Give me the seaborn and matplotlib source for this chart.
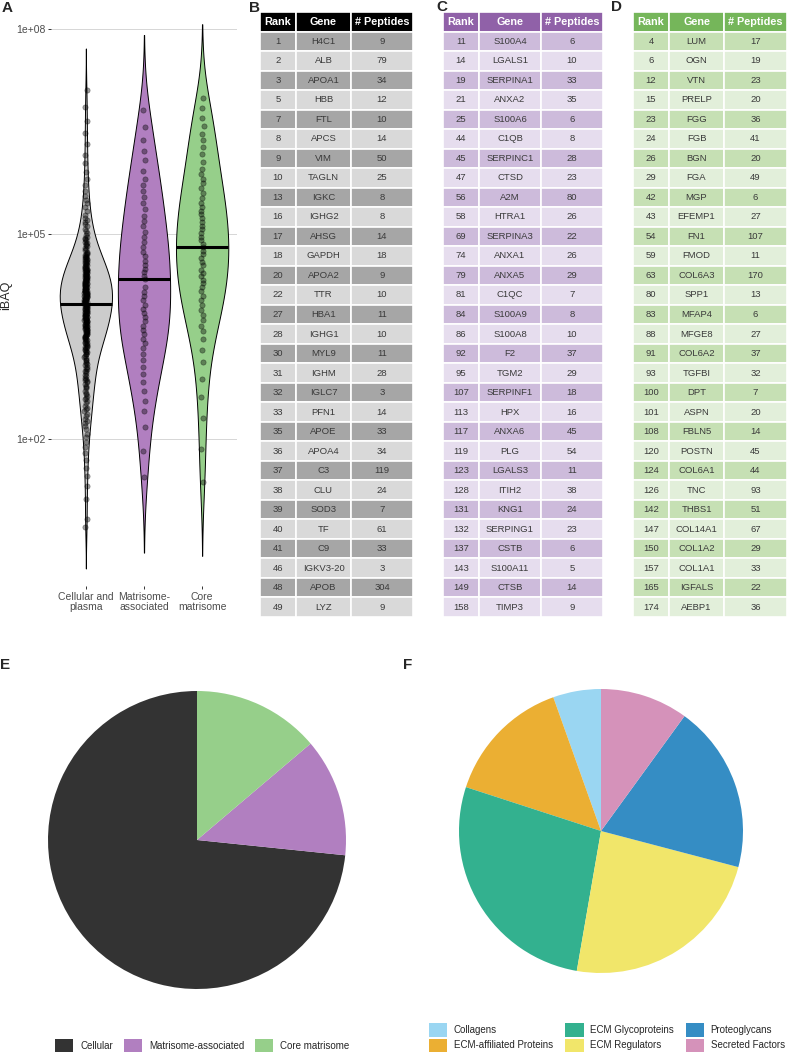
import numpy as np
import pandas as pd
import matplotlib
matplotlib.use("Agg")
import matplotlib.pyplot as plt
import seaborn as sns

cellular_log_ibaq = [
    0.72, 0.83, 1.12, 1.31, 1.46, 1.58, 1.70, 1.79, 1.88, 1.96,
    2.03, 2.08, 2.14, 2.19, 2.23, 2.27, 2.30, 2.34, 2.37, 2.41, 2.44, 2.46, 2.49,
    2.52, 2.55, 2.58, 2.60, 2.63, 2.66, 2.68, 2.71, 2.74,
    2.76, 2.78, 2.80, 2.83, 2.85, 2.87, 2.88, 2.90, 2.92, 2.94, 2.96, 2.99,
    3.00, 3.02, 3.04, 3.06, 3.08, 3.10, 3.11, 3.13, 3.15, 3.16, 3.18, 3.20, 3.22, 3.24,
    3.25, 3.27, 3.28, 3.29, 3.30, 3.32, 3.33, 3.34, 3.35, 3.36, 3.38, 3.39, 3.40, 3.41,
    3.42, 3.43, 3.45, 3.46, 3.47, 3.48, 3.49,
    3.50, 3.51, 3.51, 3.52, 3.53, 3.54, 3.55, 3.56, 3.56, 3.57, 3.58, 3.59, 3.60, 3.61, 3.61, 3.62,
    3.63, 3.64, 3.65, 3.66, 3.66, 3.67, 3.68, 3.69, 3.70, 3.71, 3.71, 3.72, 3.73, 3.74, 3.74,
    3.75, 3.76, 3.76, 3.77, 3.78, 3.78, 3.79, 3.80, 3.81, 3.81, 3.82, 3.83, 3.84, 3.84, 3.85, 3.86,
    3.87, 3.87, 3.88, 3.89, 3.90, 3.90, 3.91, 3.92, 3.93, 3.93, 3.94, 3.95, 3.96, 3.96, 3.97, 3.98, 3.99,
    4.00, 4.00, 4.01, 4.01, 4.02, 4.02, 4.03, 4.04, 4.04, 4.05, 4.05, 4.06, 4.07, 4.07, 4.08, 4.08,
    4.09, 4.10, 4.10, 4.11, 4.11, 4.12, 4.13, 4.13, 4.14, 4.14, 4.15, 4.16, 4.16, 4.17, 4.17, 4.18,
    4.19, 4.19, 4.20, 4.20, 4.21, 4.22, 4.22, 4.23, 4.24,
    4.25, 4.26, 4.26, 4.27, 4.27, 4.28, 4.29, 4.29, 4.30, 4.31, 4.31, 4.32, 4.33, 4.34, 4.34, 4.35,
    4.36, 4.36, 4.37, 4.38, 4.39, 4.39, 4.40, 4.41, 4.41, 4.42, 4.43, 4.44, 4.45, 4.46, 4.46, 4.47,
    4.48, 4.48, 4.49, 4.49,
    4.50, 4.51, 4.52, 4.53, 4.54, 4.55, 4.56, 4.57, 4.58, 4.59, 4.60, 4.61, 4.62, 4.63, 4.64, 4.65,
    4.66, 4.67, 4.68, 4.69, 4.70, 4.71, 4.72, 4.74,
    4.76, 4.78, 4.80, 4.82, 4.84, 4.85, 4.87, 4.89, 4.91, 4.92, 4.94, 4.96, 4.98,
    5.02, 5.05, 5.08, 5.11, 5.14, 5.17, 5.20, 5.23,
    5.28, 5.33, 5.39, 5.45, 5.49,
    5.55, 5.63, 5.71, 5.80, 5.91,
    6.04, 6.16, 6.31, 6.48, 6.66, 6.86, 7.10,
]
matrisome_assoc_log_ibaq = [
    1.44, 1.83, 2.18, 2.41, 2.56, 2.71, 2.84, 2.95, 3.05, 3.16,
    3.24, 3.33, 3.41, 3.47, 3.54, 3.60, 3.66, 3.72, 3.78, 3.84,
    3.90, 3.96, 4.03, 4.09, 4.15, 4.22, 4.34, 4.39, 4.44, 4.49,
    4.55, 4.61, 4.68, 4.74, 4.81, 4.88, 4.95, 5.03, 5.11, 5.19,
    5.27, 5.36, 5.45, 5.54, 5.63, 5.72, 5.81, 5.92, 6.08, 6.22,
    6.38, 6.57, 6.81,
]
core_matrisome_log_ibaq = [
    1.37, 1.86, 2.31, 2.62, 2.88, 3.12, 3.30, 3.46, 3.58, 3.66,
    3.74, 3.82, 3.89, 3.96, 4.04, 4.10, 4.16, 4.22, 4.28, 4.33,
    4.38, 4.43, 4.48, 4.54, 4.59, 4.65, 4.70, 4.75, 4.81, 4.86,
    4.91, 4.96, 5.02, 5.07, 5.12, 5.18, 5.23, 5.29, 5.34, 5.40,
    5.46, 5.53, 5.60, 5.67, 5.74, 5.81, 5.88, 5.95, 6.06, 6.17,
    6.27, 6.37, 6.46, 6.58, 6.70, 6.84, 6.99,
]
group_labels = ["Cellular and\nplasma", "Matrisome-\nassociated", "Core\nmatrisome"]
group_colors = ["#CCCCCC", "#B17FC0", "#96CF8A"]
ytick_values = [2, 5, 8]
ytick_labels = ["1e+02", "1e+05", "1e+08"]

# ---- panels B-D: top proteins ----
table_header = ["Rank", "Gene", "# Peptides"]

cell_ranks = [1, 2, 3, 5, 7, 8, 9, 10, 13, 16, 17, 18, 20, 22, 27, 28, 30, 31, 32, 33,
              35, 36, 37, 38, 39, 40, 41, 46, 48, 49]
cell_genes = ["H4C1", "ALB", "APOA1", "HBB", "FTL", "APCS", "VIM", "TAGLN", "IGKC", "IGHG2",
              "AHSG", "GAPDH", "APOA2", "TTR", "HBA1", "IGHG1", "MYL9", "IGHM", "IGLC7", "PFN1",
              "APOE", "APOA4", "C3", "CLU", "SOD3", "TF", "C9", "IGKV3-20", "APOB", "LYZ"]
cell_peptides = [9, 79, 34, 12, 10, 14, 50, 25, 8, 8, 14, 18, 9, 10, 11, 10, 11, 28, 3, 14,
                 33, 34, 119, 24, 7, 61, 33, 3, 304, 9]

assoc_ranks = [11, 14, 19, 21, 25, 44, 45, 47, 56, 58, 69, 74, 79, 81, 84, 86, 92, 95, 107, 113,
               117, 119, 123, 128, 131, 132, 137, 143, 149, 158]
assoc_genes = ["S100A4", "LGALS1", "SERPINA1", "ANXA2", "S100A6", "C1QB", "SERPINC1", "CTSD",
               "A2M", "HTRA1", "SERPINA3", "ANXA1", "ANXA5", "C1QC", "S100A9", "S100A8", "F2",
               "TGM2", "SERPINF1", "HPX", "ANXA6", "PLG", "LGALS3", "ITIH2", "KNG1", "SERPING1",
               "CSTB", "S100A11", "CTSB", "TIMP3"]
assoc_peptides = [6, 10, 33, 35, 6, 8, 28, 23, 80, 26, 22, 26, 29, 7, 8, 10, 37, 29, 18, 16,
                  45, 54, 11, 38, 24, 23, 6, 5, 14, 9]

core_ranks = [4, 6, 12, 15, 23, 24, 26, 29, 42, 43, 54, 59, 63, 80, 83, 88, 91, 93, 100, 101,
              108, 120, 124, 126, 142, 147, 150, 157, 165, 174]
core_genes = ["LUM", "OGN", "VTN", "PRELP", "FGG", "FGB", "BGN", "FGA", "MGP", "EFEMP1",
              "FN1", "FMOD", "COL6A3", "SPP1", "MFAP4", "MFGE8", "COL6A2", "TGFBI", "DPT", "ASPN",
              "FBLN5", "POSTN", "COL6A1", "TNC", "THBS1", "COL14A1", "COL1A2", "COL1A1", "IGFALS", "AEBP1"]
core_peptides = [17, 19, 23, 20, 36, 41, 20, 49, 6, 27, 107, 11, 170, 13, 6, 27, 37, 32, 7, 20,
                 14, 45, 44, 93, 51, 67, 29, 33, 22, 36]

# ---- panels E-F: protein counts per compartment / matrisome category ----
comp_labels = ["Cellular", "Matrisome-associated", "Core matrisome"]
comp_counts = [303, 53, 57]
comp_colors = ["#333333", "#B17FC0", "#96CF8A"]

cat_labels = ["Collagens", "ECM-affiliated Proteins", "ECM Glycoproteins",
              "ECM Regulators", "Proteoglycans", "Secreted Factors"]
cat_counts = [6, 16, 30, 26, 21, 11]
cat_colors = ["#9AD6F2", "#EBAF33", "#33B18F", "#F1E66A", "#358DC4", "#D592BA"]

sns.set_style("white")
plt.rcParams["font.family"] = ["Liberation Sans", "DejaVu Sans"]

W, H = 787, 1052
fig = plt.figure(figsize=(W / 100, H / 100), dpi=100)


def px_axes(left, top, width, height):
    return fig.add_axes([left / W, 1 - (top + height) / H, width / W, height / H])


# ---- A: violins ----
ax = px_axes(51, 5, 186, 581)
values = [cellular_log_ibaq, matrisome_assoc_log_ibaq, core_matrisome_log_ibaq]
df = pd.DataFrame({
    "group": np.repeat(group_labels, [len(v) for v in values]),
    "log_ibaq": np.concatenate(values),
})
sns.violinplot(data=df, x="group", y="log_ibaq", hue="group", order=group_labels,
               hue_order=group_labels, palette=group_colors, saturation=1, inner=None,
               cut=2.3, bw_adjust=0.85, density_norm="width", width=0.9, linewidth=0.7,
               linecolor="black", legend=False, ax=ax)
np.random.seed(7)
sns.stripplot(data=df, x="group", y="log_ibaq", order=group_labels, color="black",
              alpha=0.38, size=3.8, jitter=0.025, linewidth=0.5, edgecolor="black",
              zorder=3, ax=ax)
medians = df.groupby("group", sort=False)["log_ibaq"].median()
for i, g in enumerate(group_labels):
    ax.hlines(medians[g], i - 0.45, i + 0.45, color="black", lw=2.2, zorder=5)

ax.set_xlim(-0.6, 2.6)
ax.set_ylim(-0.15, 8.35)
ax.set_yticks(ytick_values)
ax.set_yticklabels(ytick_labels)
ax.yaxis.grid(True, color="#d6d6d6", lw=0.7)
ax.xaxis.grid(False)
ax.set_axisbelow(True)
for s in ax.spines.values():
    s.set_visible(False)
ax.tick_params(axis="both", bottom=True, left=True, length=2.5, width=0.7,
               color="#333333", labelcolor="#4d4d4d", labelsize=7.5, pad=1.5)
for lab in ax.get_xticklabels():
    lab.set_linespacing(1.0)
ax.set_xlabel("")
ax.set_ylabel("iBAQ", fontsize=9, labelpad=3)


# ---- B-D: tables ----
def draw_table(left, col_px, ranks, genes, peps, header_color, dark, light):
    width = sum(col_px)
    tax = px_axes(left, 12, width, 605)
    tax.axis("off")
    rows = [[str(r), g, str(p)] for r, g, p in zip(ranks, genes, peps)]
    tbl = tax.table(cellText=rows, colLabels=table_header,
                    colWidths=[c / width for c in col_px],
                    cellLoc="center", colLoc="center", bbox=[0, 0, 1, 1])
    tbl.auto_set_font_size(False)
    for (r, c), cell in tbl.get_celld().items():
        cell.set_edgecolor("white")
        cell.set_linewidth(1.2)
        txt = cell.get_text()
        if r == 0:
            cell.set_facecolor(header_color)
            txt.set_color("white")
            txt.set_fontweight("bold")
            txt.set_fontsize(7.8)
        else:
            cell.set_facecolor(dark if r % 2 == 1 else light)
            txt.set_color("#3a3a3a")
            txt.set_fontsize(6.8)


draw_table(260, [36, 55, 62], cell_ranks, cell_genes, cell_peptides,
           "#000000", "#A6A6A6", "#D9D9D9")
draw_table(443, [36, 62, 62], assoc_ranks, assoc_genes, assoc_peptides,
           "#9061A8", "#CDBBDB", "#E6DDEE")
draw_table(633, [36, 55, 63], core_ranks, core_genes, core_peptides,
           "#75B65A", "#C6E0B4", "#E2EFDA")

# ---- E-F: pies ----
axE = px_axes(48, 691, 298, 298)
wedgesE, _ = axE.pie(comp_counts, colors=comp_colors, startangle=90, counterclock=True,
                     wedgeprops=dict(linewidth=0))
axE.set_xlim(-1, 1)
axE.set_ylim(-1, 1)
axE.set_aspect("equal")
fig.legend(wedgesE, comp_labels, loc="lower left", bbox_to_anchor=(55 / W, 0), ncol=3,
           frameon=False, fontsize=7, handlelength=1.9, handleheight=1.7,
           handletextpad=0.7, columnspacing=1.1, borderpad=0, borderaxespad=0)

axF = px_axes(459, 689, 284, 284)
wedgesF, _ = axF.pie(cat_counts, colors=cat_colors, startangle=90, counterclock=True,
                     wedgeprops=dict(linewidth=0))
axF.set_xlim(-1, 1)
axF.set_ylim(-1, 1)
axF.set_aspect("equal")
fig.legend(wedgesF, cat_labels, loc="lower left", bbox_to_anchor=(429 / W, 0), ncol=3,
           frameon=False, fontsize=7, handlelength=1.9, handleheight=1.75,
           handletextpad=0.65, columnspacing=1.25, labelspacing=0.2,
           borderpad=0, borderaxespad=0)

# panel letters
for letter, x, y in [("A", 2, 1), ("B", 249, 1), ("C", 436, 0), ("D", 611, 0),
                     ("E", 0, 658), ("F", 403, 658)]:
    fig.text(x / W, 1 - y / H, letter, fontsize=11, fontweight="bold", va="top", ha="left")

fig.savefig("out.png", dpi=100)
